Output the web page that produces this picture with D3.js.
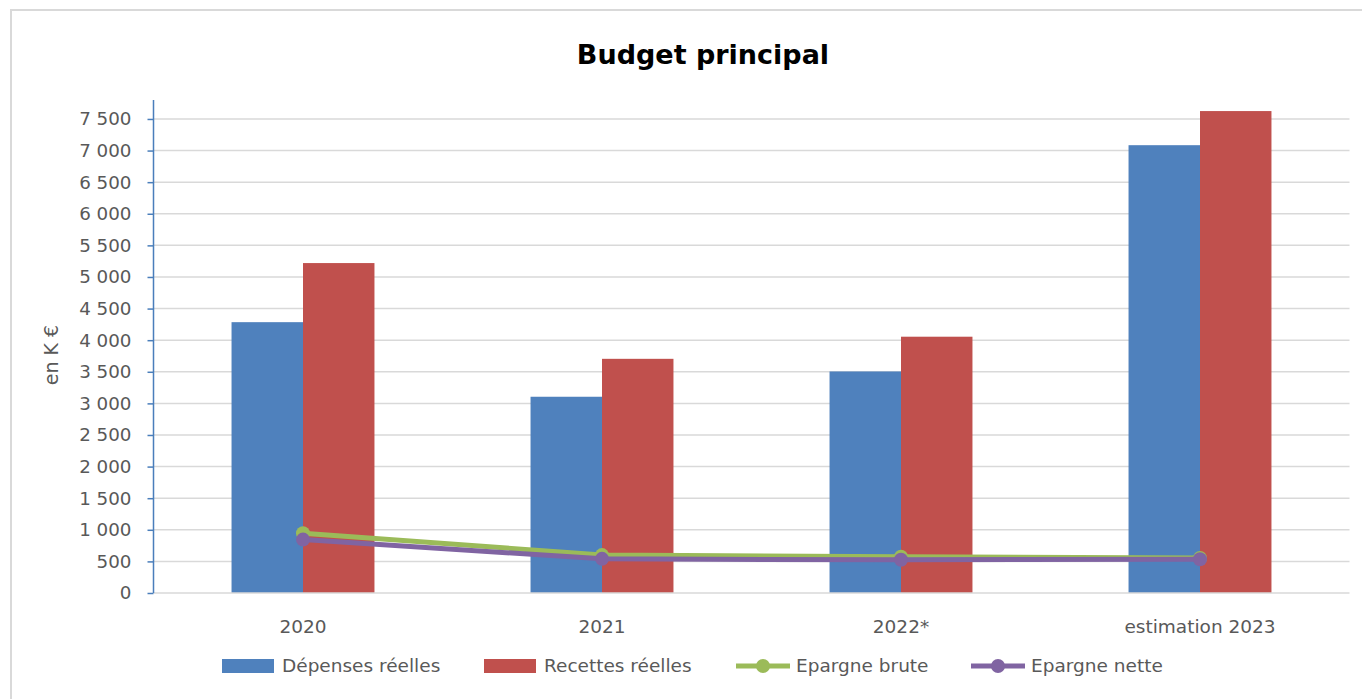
<!DOCTYPE html>
<html><head><meta charset="utf-8">
<script src="https://cdn.jsdelivr.net/npm/d3@7"></script>
<style>body{margin:0;background:#fff;}svg{display:block;font-family:"DejaVu Sans",sans-serif;}</style>
</head><body><svg id="c" width="1362" height="699"></svg>
<script>
const categories = ["2020", "2021", "2022*", "estimation 2023"];
const depenses = [4285, 3105, 3505, 7085];
const recettes = [5220, 3705, 4055, 7625];
const epargneBrute = [945, 600, 575, 555];
const epargneNette = [845, 540, 525, 535];
const yTicks = [0,500,1000,1500,2000,2500,3000,3500,4000,4500,5000,5500,6000,6500,7000,7500];
const seriesNames = ["Dépenses réelles", "Recettes réelles", "Epargne brute", "Epargne nette"];
const colors = ["#4f81bd", "#c0504d", "#9bbb59", "#8064a2"];

const svg = d3.select("#c");
// frame
svg.append("path").attr("d","M11,699 L11,10 L1362,10").attr("fill","none").attr("stroke","#d9d9d9").attr("stroke-width",2);

const x0 = 153.5, x1 = 1349.5, yTop = 100, yBot = 593;
const x = d3.scaleBand().domain(categories).range([x0, x1]).paddingInner(0.522).paddingOuter(0.261);
const xs = d3.scaleBand().domain([0,1]).range([0, x.bandwidth()]);
const y = d3.scaleLinear().domain([0, 7800]).range([yBot, yTop]);
const fmt = v => d3.format(",")(v).replace(/,/g, " ");

// gridlines
svg.append("g").selectAll("line").data(yTicks.filter(d=>d>0)).join("line")
  .attr("x1", x0).attr("x2", x1).attr("y1", d=>y(d)).attr("y2", d=>y(d))
  .attr("stroke", "#d9d9d9").attr("stroke-width", 1.5);

// bars
const bars = [depenses, recettes];
bars.forEach((arr, si) => {
  svg.append("g").selectAll("rect").data(arr).join("rect")
    .attr("x", (d,i)=>x(categories[i]) + xs(si)).attr("width", xs.bandwidth())
    .attr("y", d=>y(d)).attr("height", d=>yBot - y(d)).attr("fill", colors[si]);
});

// x axis line
svg.append("line").attr("x1", x0).attr("x2", x1).attr("y1", yBot).attr("y2", yBot).attr("stroke","#d9d9d9").attr("stroke-width",1.5);

// y axis
const yAxis = d3.axisLeft(y).tickValues(yTicks).tickSize(6).tickPadding(16).tickFormat(fmt);
const ga = svg.append("g").attr("transform", `translate(${x0},0)`).call(yAxis);
ga.select(".domain").attr("d", `M0,${yTop}V${yBot}`).attr("stroke", "#4a7ebb").attr("stroke-width", 1.5);
ga.selectAll(".tick line").attr("stroke", "#4a7ebb").attr("stroke-width", 1.5);
ga.selectAll(".tick text").attr("fill", "#595959").style("font-size", "18.3px").style("font-family", '"DejaVu Sans", sans-serif');

// x labels
svg.append("g").selectAll("text").data(categories).join("text")
  .attr("x", d=>x(d)+x.bandwidth()/2).attr("y", 633).attr("text-anchor","middle")
  .attr("fill","#595959").style("font-size","18.5px").text(d=>d);

// lines
const lines = [epargneBrute, epargneNette];
lines.forEach((arr, li) => {
  const c = colors[2+li];
  const line = d3.line().x((d,i)=>x(categories[i]) + x.bandwidth()/2).y(d=>y(d));
  svg.append("path").datum(arr).attr("d", line).attr("fill","none").attr("stroke", c).attr("stroke-width", 5).attr("stroke-linejoin","round");
  svg.append("g").selectAll("circle").data(arr).join("circle")
    .attr("cx", (d,i)=>x(categories[i]) + x.bandwidth()/2).attr("cy", d=>y(d)).attr("r", 7).attr("fill", c);
});

// y label
svg.append("text").attr("transform","translate(58,355) rotate(-90)").attr("text-anchor","middle")
  .attr("fill","#595959").style("font-size","19px").text("en K €");

// title
svg.append("text").attr("x", 703).attr("y", 64).attr("text-anchor","middle").attr("fill","#000")
  .style("font-size","27px").style("font-weight","bold").text("Budget principal");

// legend
const lg = svg.append("g");
const legX = [222, 484, 736, 971];
seriesNames.forEach((n, i) => {
  const g = lg.append("g").attr("transform", `translate(${legX[i]},666)`);
  if (i < 2) {
    g.append("rect").attr("x",0).attr("y",-7).attr("width",52).attr("height",14).attr("fill",colors[i]);
  } else {
    g.append("line").attr("x1",0).attr("x2",54).attr("y1",0).attr("y2",0).attr("stroke",colors[i]).attr("stroke-width",5);
    g.append("circle").attr("cx",27).attr("cy",0).attr("r",7).attr("fill",colors[i]);
  }
  g.append("text").attr("x", i<2 ? 60 : 60).attr("y", 0).attr("dy","0.35em").attr("fill","#595959")
    .style("font-size","18.5px").text(n);
});
</script></body></html>
